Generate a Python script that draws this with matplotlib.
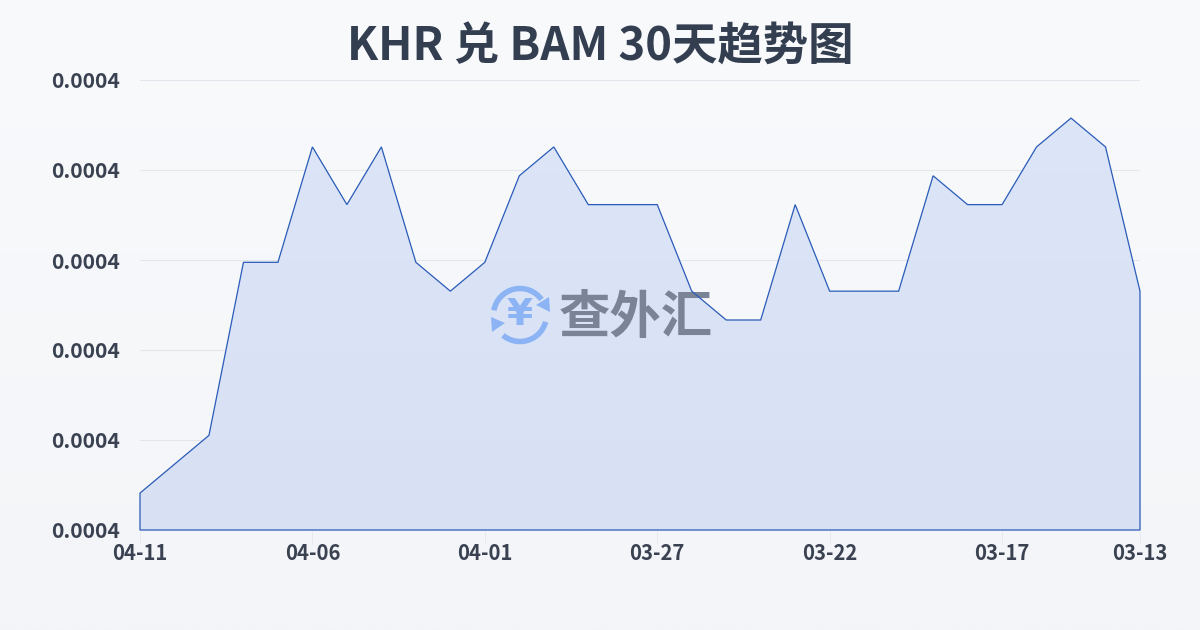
import numpy as np
import matplotlib
matplotlib.use('Agg')
import matplotlib.pyplot as plt
from matplotlib.patches import Arc, Polygon
from matplotlib.transforms import Affine2D

plt.rcParams['font.family'] = ['Noto Sans CJK SC', 'DejaVu Sans']

title = 'KHR 兑 BAM 30天趋势图'
dates = ['04-11', '04-10', '04-09', '04-08', '04-07', '04-06', '04-05', '04-04', '04-03', '04-02',
         '04-01', '03-31', '03-30', '03-29', '03-28', '03-27', '03-26', '03-25', '03-24', '03-23',
         '03-22', '03-21', '03-20', '03-19', '03-18', '03-17', '03-16', '03-15', '03-14', '03-13']
rates = [388, 389, 390, 396, 396, 400, 398, 400, 396, 395,
         396, 399, 400, 398, 398, 398, 395, 394, 394, 398,
         395, 395, 395, 399, 398, 398, 400, 401, 400, 395]
rates = np.array(rates) * 1e-6
y_min, y_max = 0.00038672, 0.00040232

fig = plt.figure(figsize=(12, 6.3), dpi=100)

# background gradient, whole figure
bg = fig.add_axes([0, 0, 1, 1], zorder=0)
bg.axis('off')
top = np.array([249, 250, 252]) / 255
bottom = np.array([243, 245, 248]) / 255
grad = np.linspace(0, 1, 256)[:, None, None] * (bottom - top) + top
bg.imshow(grad, aspect='auto', extent=[0, 1, 0, 1])

ax = fig.add_axes([140 / 1200, 100 / 630, 1000 / 1200, 450 / 630], zorder=1)
ax.patch.set_visible(False)
x = np.arange(len(dates))
ax.set_xlim(0, len(dates) - 1)
ax.set_ylim(y_min, y_max)

ax.set_yticks(np.linspace(y_min, y_max, 6))
ax.set_yticklabels(['%.4f' % v for v in np.linspace(y_min, y_max, 6)])
ax.set_xticks(x[::5].tolist() + [x[-1]])
ax.set_xticklabels(dates[::5] + [dates[-1]])
ax.tick_params(axis='y', length=0, pad=14.4, labelsize=15.2, labelcolor='#3a4252')
ax.tick_params(axis='x', length=10, width=0.6, color='#e4e7eb', pad=-1, labelsize=14.6, labelcolor='#3a4252')
for lab in ax.get_xticklabels() + ax.get_yticklabels():
    lab.set_fontweight('bold')
ax.grid(axis='y', color='#e3e6eb', lw=0.8)
ax.set_axisbelow(True)
for s in ax.spines.values():
    s.set_visible(False)

# area with a soft vertical gradient, clipped to the series outline
area_top = np.array([220, 230, 248]) / 255
area_bottom = np.array([216, 225, 244]) / 255
area = ax.imshow(np.linspace(0, 1, 256)[:, None, None] * (area_bottom - area_top) + area_top,
                 aspect='auto', extent=[0, len(dates) - 1, y_min, y_max], zorder=1.5)
outline = np.column_stack([np.r_[x[0], x, x[-1]], np.r_[y_min, rates, y_min]])
clip = Polygon(outline, closed=True, transform=ax.transData, fc='none', ec='none')
ax.add_patch(clip)
area.set_clip_path(clip)
ax.set_xlim(0, len(dates) - 1)
ax.set_ylim(y_min, y_max)

# watermark, placed in pixels
px = Affine2D().scale(1, -1).translate(0, 630)
blue = '#8cb4f5'
for a, b in [(190, 324), (15, 130)]:
    ax.add_patch(Arc((520, 315), 53, 53, theta1=a, theta2=b, lw=4, color=blue,
                     transform=px, clip_on=False, zorder=2))
ax.add_patch(Polygon([[549, 297], [550, 312], [536, 305]], closed=True, fc=blue, ec='none',
                     transform=px, clip_on=False, zorder=2))
ax.add_patch(Polygon([[491, 317], [505, 323], [492, 332]], closed=True, fc=blue, ec='none',
                     transform=px, clip_on=False, zorder=2))
ax.text(520, 315, '¥', transform=px, ha='center', va='center', fontsize=27, fontweight='bold',
        color=blue, zorder=2, clip_on=False, family='DejaVu Sans')
ax.text(636, 317, '查外汇', transform=px, ha='center', va='center', fontsize=37, fontweight='bold',
        color='#7a8496', zorder=2, clip_on=False)

ax.add_patch(Polygon(outline, closed=True, fc='none', ec='#2a5bb8', lw=0.9, zorder=3, clip_on=False))

fig.text(600 / 1200, 1 - 48 / 630, title, ha='center', va='center', fontsize=32.7, fontweight='bold',
         color='#333e50')

fig.savefig('out.png', dpi=100)
